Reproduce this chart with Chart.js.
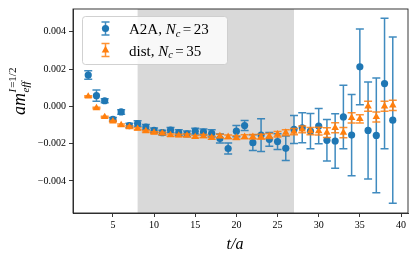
<!DOCTYPE html>
<html>
<head>
<meta charset="utf-8">
<script src="https://cdn.jsdelivr.net/npm/chart.js@4"></script>
<style>
  html, body { margin: 0; padding: 0; background: #fff; }
  #wrap { width: 415px; height: 256px; }
</style>
</head>
<body>
<div id="wrap"><canvas id="chart" width="415" height="256"></canvas></div>
<script>
// === DATA ===
const tVals = [2, 3, 4, 5, 6, 7, 8, 9, 10, 11, 12, 13, 14, 15, 16, 17, 18, 19, 20, 21,
               22, 23, 24, 25, 26, 27, 28, 29, 30, 31, 32, 33, 34, 35, 36, 37, 38, 39];

// A2A, Nc = 23 (units of 1e-3)
const a2aVals = [1.68, 0.57, 0.30, -0.70, -0.30, -1.03, -0.92, -1.11, -1.29, -1.41,
                 -1.27, -1.41, -1.47, -1.33, -1.38, -1.45, -1.73, -2.26, -1.33, -1.03,
                 -1.95, -1.54, -1.77, -1.89, -2.25, -1.24, -1.15, -1.33, -1.06, -1.82,
                 -1.86, -0.57, -1.54, 2.12, -1.29, -1.56, 1.22, -0.74];
const a2aErr = [0.23, 0.30, 0.11, 0.10, 0.12, 0.12, 0.15, 0.13, 0.13, 0.13,
                0.13, 0.15, 0.15, 0.15, 0.16, 0.20, 0.24, 0.30, 0.30, 0.27,
                0.42, 0.88, 0.37, 0.42, 0.66, 0.75, 0.80, 0.95, 0.94, 1.11,
                1.46, 1.70, 2.18, 2.03, 2.60, 3.08, 3.50, 4.46];

// dist, Nc = 35 (units of 1e-3)
const distVals = [0.53, -0.09, -0.57, -0.80, -1.00, -1.11, -1.20, -1.33, -1.41, -1.45,
                  -1.54, -1.56, -1.56, -1.63, -1.59, -1.68, -1.59, -1.64, -1.68, -1.63,
                  -1.63, -1.63, -1.59, -1.50, -1.41, -1.36, -1.24, -1.33, -1.33, -1.41,
                  -1.15, -1.41, -0.62, -0.67, 0.00, -0.57, 0.00, 0.05];
const distErr = [0.04, 0.04, 0.04, 0.04, 0.05, 0.05, 0.05, 0.05, 0.05, 0.06,
                 0.06, 0.06, 0.07, 0.07, 0.08, 0.08, 0.09, 0.10, 0.10, 0.11,
                 0.12, 0.13, 0.14, 0.15, 0.16, 0.17, 0.18, 0.20, 0.21, 0.26,
                 0.27, 0.27, 0.27, 0.22, 0.27, 0.27, 0.27, 0.27];

const fitRange = [8, 27];
const xTicks = [5, 10, 15, 20, 25, 30, 35, 40];
const yTicks = [-0.004, -0.002, 0, 0.002, 0.004];

const BLUE = '#1f77b4';
const ORANGE = '#ff7f0e';
const SERIF = '"Liberation Serif", "DejaVu Serif", serif';

function toPoints(vals, errs) {
    return tVals.map((t, i) => ({ x: t, y: vals[i] * 1e-3, err: errs[i] * 1e-3 }));
}

// === PLUGIN: shaded fit range ===
const shadePlugin = {
    id: 'shade',
    beforeDatasetsDraw(chart) {
        const { ctx, chartArea, scales } = chart;
        const x0 = scales.x.getPixelForValue(fitRange[0]);
        const x1 = scales.x.getPixelForValue(fitRange[1]);
        ctx.save();
        ctx.fillStyle = '#d9d9d9';
        ctx.fillRect(x0, chartArea.top, x1 - x0, chartArea.bottom - chartArea.top);
        ctx.restore();
    }
};

// === PLUGIN: error bars, drawn just before each dataset's markers ===
const errorBarPlugin = {
    id: 'errorBars',
    beforeDatasetDraw(chart, args) {
        const ds = chart.data.datasets[args.index];
        const { ctx, scales } = chart;
        ctx.save();
        ctx.strokeStyle = ds.errColor;
        ctx.lineWidth = 1.5;
        ds.data.forEach(p => {
            const x = scales.x.getPixelForValue(p.x);
            const yTop = scales.y.getPixelForValue(p.y + p.err);
            const yBot = scales.y.getPixelForValue(p.y - p.err);
            ctx.beginPath();
            ctx.moveTo(x, yTop); ctx.lineTo(x, yBot);
            ctx.moveTo(x - 4, yTop); ctx.lineTo(x + 4, yTop);
            ctx.moveTo(x - 4, yBot); ctx.lineTo(x + 4, yBot);
            ctx.stroke();
        });
        ctx.restore();
    }
};

// teks dengan potongan italic / subscript / superscript
function drawRich(ctx, parts, x, y) {
    let cx = x;
    parts.forEach(p => {
        ctx.font = (p.italic ? 'italic ' : '') + p.size + 'px ' + SERIF;
        ctx.fillText(p.text, cx, y + (p.dy || 0));
        cx += ctx.measureText(p.text).width + (p.gap || 0);
    });
    return cx;
}

// === PLUGIN: frame, legend, axis titles ===
const decorPlugin = {
    id: 'decor',
    afterDraw(chart) {
        const { ctx, chartArea } = chart;
        ctx.save();
        // frame
        ctx.strokeStyle = '#222';
        ctx.lineWidth = 0.9;
        ctx.strokeRect(chartArea.left, chartArea.top,
                       chartArea.right - chartArea.left, chartArea.bottom - chartArea.top);

        // legend box
        ctx.beginPath();
        ctx.roundRect(82.5, 16.5, 145, 48, 3);
        ctx.fillStyle = 'rgba(255,255,255,0.8)';
        ctx.fill();
        ctx.strokeStyle = '#cccccc';
        ctx.lineWidth = 0.9;
        ctx.stroke();

        const entries = [
            { y: 28.5, color: BLUE, err: 'rgba(31,119,180,0.85)', style: 'circle', label: 'A2A, ', nc: '23' },
            { y: 50, color: ORANGE, err: 'rgba(255,127,14,0.85)', style: 'triangle', label: 'dist, ', nc: '35' }
        ];
        entries.forEach(e => {
            const mx = 105.5;
            ctx.strokeStyle = e.err;
            ctx.lineWidth = 1.5;
            ctx.beginPath();
            ctx.moveTo(mx, e.y - 6.5); ctx.lineTo(mx, e.y + 6.5);
            ctx.moveTo(mx - 4, e.y - 6.5); ctx.lineTo(mx + 4, e.y - 6.5);
            ctx.moveTo(mx - 4, e.y + 6.5); ctx.lineTo(mx + 4, e.y + 6.5);
            ctx.stroke();
            ctx.fillStyle = e.color;
            ctx.beginPath();
            if (e.style === 'circle') {
                ctx.arc(mx, e.y, 3.6, 0, Math.PI * 2);
            } else {
                ctx.moveTo(mx, e.y - 4.3);
                ctx.lineTo(mx + 3.8, e.y + 2.6);
                ctx.lineTo(mx - 3.8, e.y + 2.6);
                ctx.closePath();
            }
            ctx.fill();

            ctx.fillStyle = '#000';
            ctx.textBaseline = 'alphabetic';
            ctx.textAlign = 'left';
            drawRich(ctx, [
                { text: e.label, size: 15 },
                { text: 'N', size: 15, italic: true },
                { text: 'c', size: 10.5, italic: true, dy: 2.5, gap: 2.5 },
                { text: '=', size: 15, gap: 2.5 },
                { text: e.nc, size: 15 }
            ], 129, e.y + 5.5);
        });

        // x title
        ctx.fillStyle = '#000';
        ctx.textAlign = 'center';
        ctx.font = 'italic 16px ' + SERIF;
        ctx.fillText('t/a', 235, 249);

        // y title (rotated)
        ctx.save();
        ctx.translate(25, 115);
        ctx.rotate(-Math.PI / 2);
        ctx.textAlign = 'left';
        ctx.font = 'italic 18px ' + SERIF;
        ctx.fillText('am', 0, 0);
        const w = ctx.measureText('am').width;
        ctx.font = 'italic 11px ' + SERIF;
        ctx.fillText('eff', w + 0.5, 4);
        ctx.fillText('I', w + 0.5, -9);
        const wi = ctx.measureText('I').width;
        ctx.font = '11px ' + SERIF;
        ctx.fillText('=1/2', w + 1.5 + wi, -9);
        ctx.restore();

        ctx.restore();
    }
};

const tickFont = { family: SERIF, size: 10 };

new Chart(document.getElementById('chart'), {
    type: 'scatter',
    data: {
        datasets: [
            {
                label: 'A2A',
                data: toPoints(a2aVals, a2aErr),
                errColor: 'rgba(31,119,180,0.85)',
                backgroundColor: BLUE,
                borderColor: BLUE,
                borderWidth: 0,
                pointStyle: 'circle',
                pointRadius: 3.6,
                order: 2
            },
            {
                label: 'dist',
                data: toPoints(distVals, distErr),
                errColor: 'rgba(255,127,14,0.85)',
                backgroundColor: ORANGE,
                borderColor: ORANGE,
                borderWidth: 0,
                pointStyle: 'triangle',
                pointRadius: 4.3,
                order: 1
            }
        ]
    },
    options: {
        responsive: false,
        animation: false,
        devicePixelRatio: 1,
        layout: { padding: { top: 7, right: 7, left: 0, bottom: 0 } },
        plugins: { legend: { display: false }, tooltip: { enabled: false } },
        scales: {
            x: {
                type: 'linear',
                min: 0.15,
                max: 40.85,
                afterFit: s => { s.height = 43; },
                afterBuildTicks: s => { s.ticks = xTicks.map(v => ({ value: v })); },
                ticks: { font: tickFont, color: '#000', padding: 2, maxRotation: 0,
                         callback: v => String(v) },
                grid: { drawOnChartArea: false, tickLength: 4, color: '#222', tickWidth: 0.9 },
                border: { display: true, color: '#222', width: 0.9 }
            },
            y: {
                type: 'linear',
                min: -0.00572,
                max: 0.00522,
                afterFit: s => { s.width = 73; },
                afterBuildTicks: s => { s.ticks = yTicks.map(v => ({ value: v })); },
                ticks: { font: tickFont, color: '#000', padding: 3,
                         callback: v => v.toFixed(3).replace('-', '\u2212') },
                grid: { drawOnChartArea: false, tickLength: 4, color: '#222', tickWidth: 0.9 },
                border: { display: true, color: '#222', width: 0.9 }
            }
        }
    },
    plugins: [shadePlugin, errorBarPlugin, decorPlugin]
});
</script>
</body>
</html>
